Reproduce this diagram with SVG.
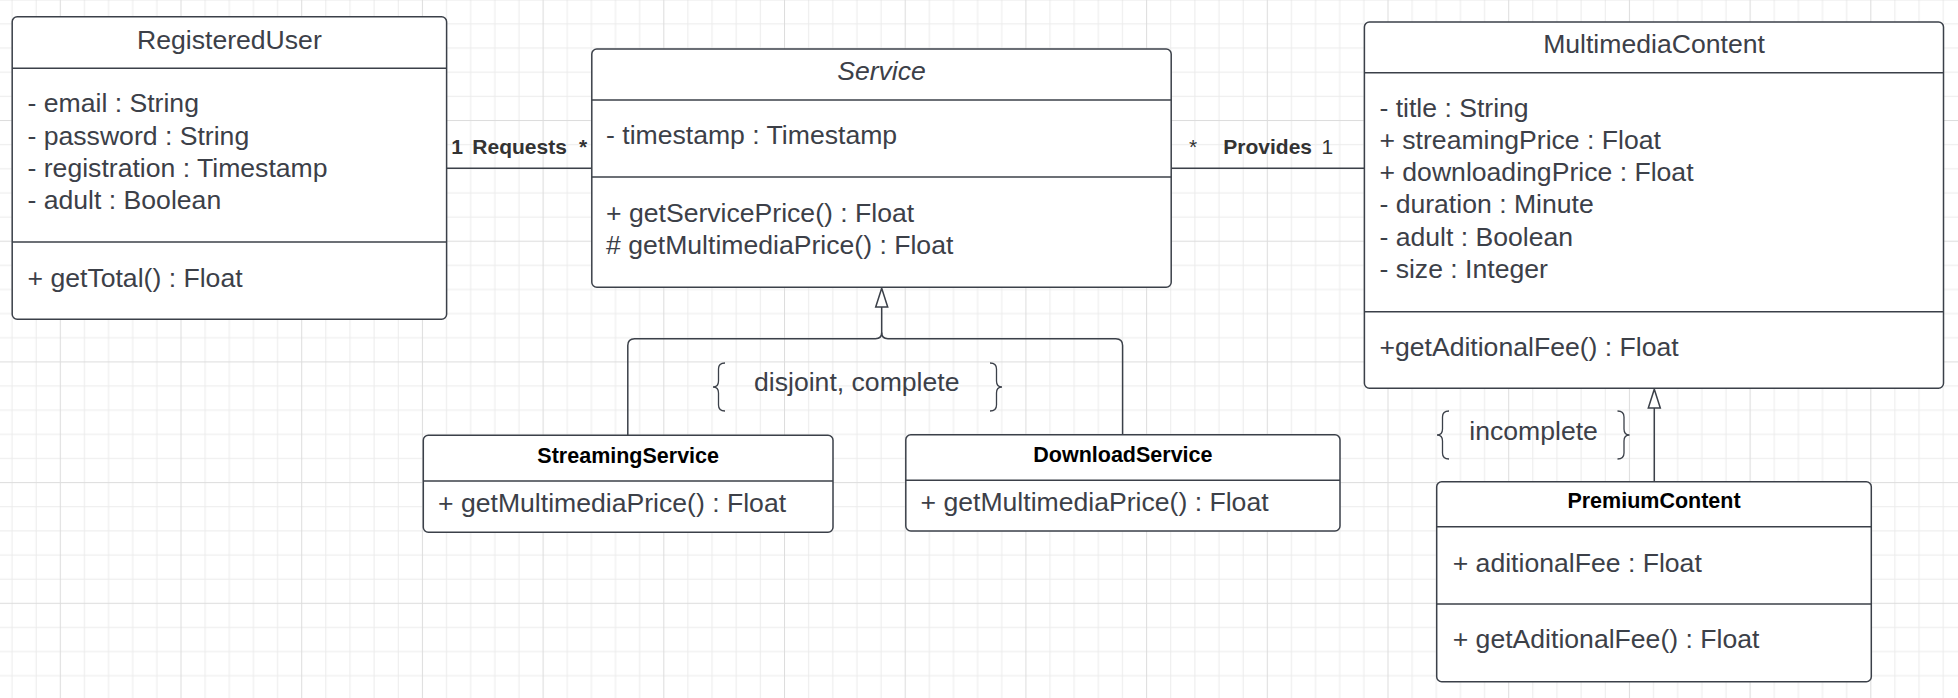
<svg xmlns="http://www.w3.org/2000/svg" width="1958" height="698" viewBox="0 0 1958 698">
<defs>
<pattern id="grid" patternUnits="userSpaceOnUse" x="59.8" y="-0.7" width="120.7" height="120.7">
<rect x="0" y="0" width="120.7" height="120.7" fill="#ffffff"/>
<g fill="#ececec">
<rect x="24.14" y="0" width="1" height="120.7"/><rect x="48.28" y="0" width="1" height="120.7"/><rect x="72.42" y="0" width="1" height="120.7"/><rect x="96.56" y="0" width="1" height="120.7"/>
<rect x="0" y="24.14" width="120.7" height="1"/><rect x="0" y="48.28" width="120.7" height="1"/><rect x="0" y="72.42" width="120.7" height="1"/><rect x="0" y="96.56" width="120.7" height="1"/>
</g>
<g fill="#dddddd">
<rect x="0" y="0" width="1" height="120.7"/><rect x="0" y="0" width="120.7" height="1"/>
</g>
</pattern>
<style>
.box{fill:#ffffff;stroke:#3b4049;stroke-width:1.5}
.div{stroke:#3b4049;stroke-width:1.5;fill:none}
.t{font-family:"Liberation Sans",Arial,sans-serif;font-size:26.6px;fill:#3c4048}
.c{text-anchor:middle}
.h{font-family:"Liberation Sans",Arial,sans-serif;font-size:21.5px;font-weight:bold;fill:#000000;text-anchor:middle}
.lb{font-family:"Liberation Sans",Arial,sans-serif;font-size:21px;fill:#333333}
.b{font-weight:bold}
.ln{stroke:#3b4049;stroke-width:1.5;fill:none}
.tri{fill:#ffffff;stroke:#3b4049;stroke-width:1.5;stroke-linejoin:miter}
.br{stroke:#3b4049;stroke-width:1.3;fill:none}
</style>
</defs>
<rect x="0" y="0" width="1958" height="698" fill="url(#grid)"/>

<g id="connectors">
<line class="ln" x1="446.6" y1="168.3" x2="591.8" y2="168.3"/>
<line class="ln" x1="1171.2" y1="168.3" x2="1364.4" y2="168.3"/>
<path class="ln" d="M627.8,435.3 V345.5 Q627.8,338.7 634.6,338.7 H875.5 Q881.7,338.7 881.7,332.5 V307"/>
<path class="ln" d="M1122.6,434.7 V345.5 Q1122.6,338.7 1115.8,338.7 H887.9 Q881.7,338.7 881.7,332.5"/>
<polygon class="tri" points="881.7,288.3 887.7,307 875.7,307"/>
<line class="ln" x1="1654.3" y1="481.7" x2="1654.3" y2="408"/>
<polygon class="tri" points="1654.3,389.3 1660.3,408 1648.3,408"/>
<text class="lb b" x="451.3" y="154.3">1</text>
<text class="lb b" x="472.3" y="154.3">Requests</text>
<text class="lb b" x="579" y="154.3">*</text>
<text class="lb" x="1189" y="154.3">*</text>
<text class="lb b" x="1223.3" y="154.3">Provides</text>
<text class="lb" x="1321.5" y="154.3">1</text>
</g>

<g id="constraint-disjoint">
<path class="br" d="M725,363 Q718.5,363 718.5,369 V381 Q718.5,387 713,387 Q718.5,387 718.5,393 V405 Q718.5,411 725,411"/>
<path class="br" d="M990,363 Q996.5,363 996.5,369 V381 Q996.5,387 1002,387 Q996.5,387 996.5,393 V405 Q996.5,411 990,411"/>
<text class="t" x="754" y="391">disjoint, complete</text>
</g>

<g id="constraint-incomplete">
<path class="br" d="M1449,411 Q1442.5,411 1442.5,417 V429 Q1442.5,435 1437,435 Q1442.5,435 1442.5,441 V453 Q1442.5,459 1449,459"/>
<path class="br" d="M1617.5,411 Q1624,411 1624,417 V429 Q1624,435 1629.5,435 Q1624,435 1624,441 V453 Q1624,459 1617.5,459"/>
<text class="t" x="1469.3" y="440">incomplete</text>
</g>

<g id="RegisteredUser">
<rect class="box" x="12.2" y="16.7" width="434.4" height="302.6" rx="5"/>
<line class="div" x1="12.2" y1="68.3" x2="446.6" y2="68.3"/>
<line class="div" x1="12.2" y1="242" x2="446.6" y2="242"/>
<text class="t c" x="229.4" y="48.5">RegisteredUser</text>
<text class="t" x="27.5" y="112.3">- email : String</text>
<text class="t" x="27.5" y="144.6">- password : String</text>
<text class="t" x="27.5" y="176.9">- registration : Timestamp</text>
<text class="t" x="27.5" y="209.2">- adult : Boolean</text>
<text class="t" x="27.5" y="286.7">+ getTotal() : Float</text>
</g>

<g id="Service">
<rect class="box" x="591.8" y="49" width="579.4" height="238.3" rx="5"/>
<line class="div" x1="591.8" y1="100" x2="1171.2" y2="100"/>
<line class="div" x1="591.8" y1="177" x2="1171.2" y2="177"/>
<text class="t c" x="881.5" y="80" font-style="italic">Service</text>
<text class="t" x="606" y="144.3">- timestamp : Timestamp</text>
<text class="t" x="606" y="221.7">+ getServicePrice() : Float</text>
<text class="t" x="606" y="254">  # getMultimediaPrice() : Float</text>
</g>

<g id="MultimediaContent">
<rect class="box" x="1364.4" y="22" width="579.1" height="366.3" rx="5"/>
<line class="div" x1="1364.4" y1="72.7" x2="1943.5" y2="72.7"/>
<line class="div" x1="1364.4" y1="311.7" x2="1943.5" y2="311.7"/>
<text class="t c" x="1654" y="52.7">MultimediaContent</text>
<text class="t" x="1379.4" y="116.7">- title : String</text>
<text class="t" x="1379.4" y="148.9">+ streamingPrice : Float</text>
<text class="t" x="1379.4" y="181.1">+ downloadingPrice : Float</text>
<text class="t" x="1379.4" y="213.3">- duration : Minute</text>
<text class="t" x="1379.4" y="245.5">- adult : Boolean</text>
<text class="t" x="1379.4" y="277.7">- size : Integer</text>
<text class="t" x="1379.4" y="356">+getAditionalFee() : Float</text>
</g>

<g id="StreamingService">
<rect class="box" x="423.3" y="435.3" width="409.7" height="97" rx="5"/>
<line class="div" x1="423.3" y1="481" x2="833" y2="481"/>
<text class="h" x="628.2" y="462.7">StreamingService</text>
<text class="t" x="438" y="511.7">+ getMultimediaPrice() : Float</text>
</g>

<g id="DownloadService">
<rect class="box" x="905.8" y="434.7" width="434.2" height="96.3" rx="5"/>
<line class="div" x1="905.8" y1="480.3" x2="1340" y2="480.3"/>
<text class="h" x="1122.9" y="462">DownloadService</text>
<text class="t" x="920.5" y="511">+ getMultimediaPrice() : Float</text>
</g>

<g id="PremiumContent">
<rect class="box" x="1436.7" y="481.7" width="434.6" height="200" rx="5"/>
<line class="div" x1="1436.7" y1="526.7" x2="1871.3" y2="526.7"/>
<line class="div" x1="1436.7" y1="604" x2="1871.3" y2="604"/>
<text class="h" x="1654" y="508.3">PremiumContent</text>
<text class="t" x="1452.7" y="571.7">+ aditionalFee : Float</text>
<text class="t" x="1452.7" y="648.3">+ getAditionalFee() : Float</text>
</g>
</svg>
